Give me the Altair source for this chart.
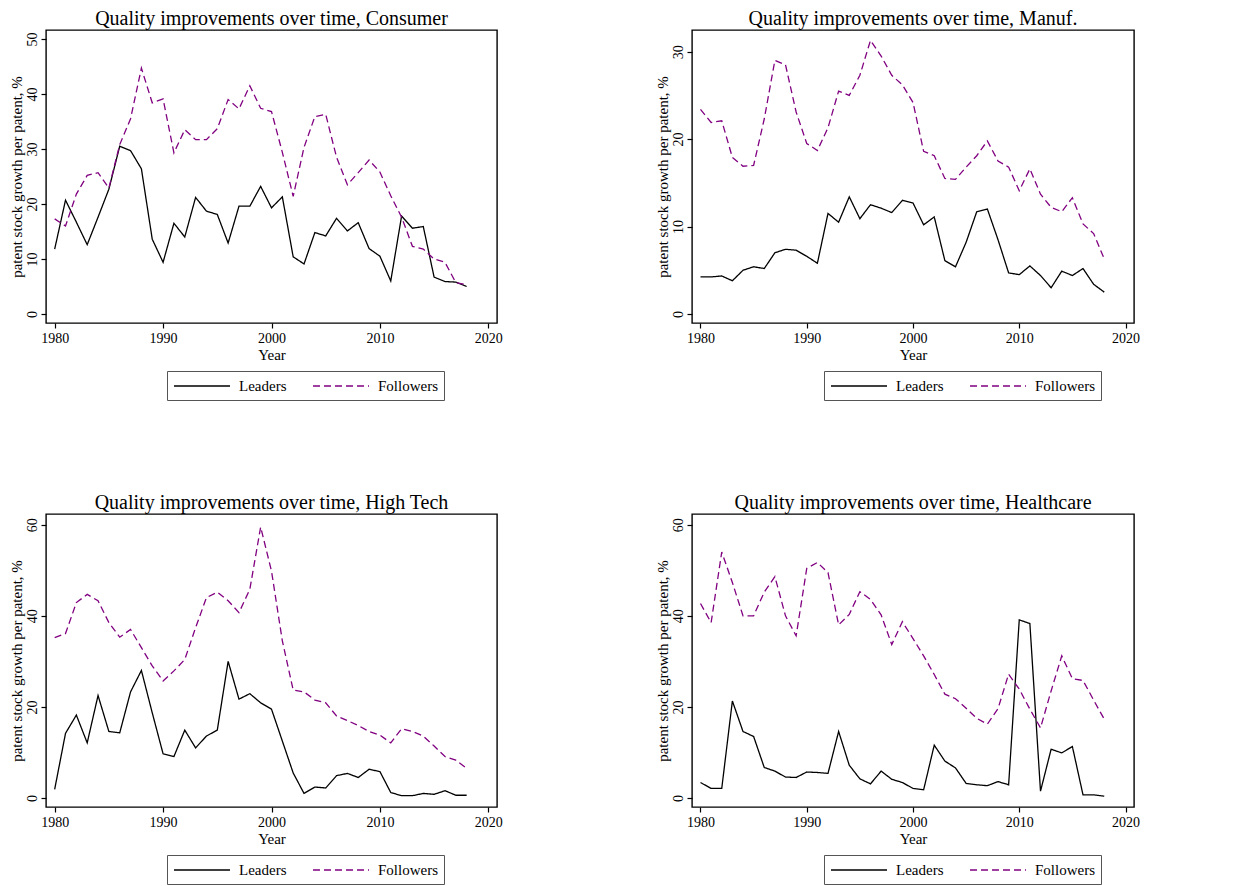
import altair as alt
import pandas as pd

years = list(range(1980, 2019))
groups = ["Leaders", "Followers"]

consumer_leaders = [11.8, 20.7, 16.7, 12.6, 17.6, 22.7, 30.5, 29.7, 26.4, 13.6,
                    9.4, 16.5, 14.0, 21.2, 18.7, 18.1, 12.9, 19.6, 19.6, 23.2,
                    19.3, 21.3, 10.4, 9.1, 14.8, 14.2, 17.4, 15.1, 16.6, 11.9,
                    10.5, 6.0, 17.8, 15.6, 15.9, 6.7, 5.9, 5.8, 5.0]
consumer_followers = [17.3, 16.0, 21.8, 25.2, 25.7, 22.9, 30.8, 35.5, 44.7, 38.4,
                      39.1, 29.3, 33.5, 31.7, 31.7, 33.7, 39.0, 37.3, 41.5, 37.4,
                      36.8, 29.4, 21.4, 30.3, 35.9, 36.3, 28.5, 23.5, 25.7, 28.0,
                      25.8, 21.5, 17.6, 12.3, 11.8, 10.0, 9.4, 5.7, 5.3]

manuf_leaders = [4.24, 4.24, 4.35, 3.8, 5.0, 5.4, 5.2, 7.0, 7.4, 7.3,
                 6.6, 5.8, 11.5, 10.5, 13.4, 10.9, 12.5, 12.1, 11.6, 13.0,
                 12.7, 10.2, 11.1, 6.1, 5.4, 8.2, 11.7, 12.0, 8.5, 4.7,
                 4.5, 5.5, 4.4, 3.0, 4.9, 4.4, 5.2, 3.4, 2.5]
manuf_followers = [23.4, 21.9, 22.1, 17.9, 16.9, 17.0, 22.3, 29.0, 28.5, 23.1,
                   19.5, 18.7, 21.3, 25.5, 25.0, 27.3, 31.3, 29.5, 27.3, 26.2,
                   24.2, 18.6, 18.1, 15.5, 15.4, 16.8, 18.1, 19.8, 17.5, 16.8,
                   14.1, 16.6, 13.7, 12.2, 11.7, 13.3, 10.3, 9.2, 6.3]

hightech_leaders = [1.9, 14.2, 18.2, 12.1, 22.5, 14.6, 14.3, 23.3, 28.0, 18.7,
                    9.7, 9.1, 14.9, 11.0, 13.6, 14.9, 30.0, 21.7, 22.9, 20.9,
                    19.5, 12.5, 5.5, 1.0, 2.4, 2.2, 4.9, 5.4, 4.5, 6.3,
                    5.8, 1.2, 0.5, 0.5, 1.0, 0.8, 1.6, 0.6, 0.6]
hightech_followers = [35.2, 36.1, 42.9, 44.7, 43.3, 38.5, 35.3, 37.0, 33.0, 29.0,
                      25.7, 27.9, 30.4, 37.4, 44.0, 45.2, 43.3, 40.7, 45.8, 59.5,
                      49.8, 34.5, 23.7, 23.3, 21.5, 20.9, 18.0, 17.0, 15.9, 14.6,
                      13.8, 12.1, 15.2, 14.6, 13.6, 11.4, 9.1, 8.3, 6.5]

health_leaders = [3.4, 2.1, 2.1, 21.3, 14.6, 13.5, 6.7, 5.9, 4.6, 4.5,
                  5.7, 5.6, 5.4, 14.6, 7.2, 4.2, 3.1, 5.9, 4.1, 3.4,
                  2.1, 1.8, 11.6, 8.1, 6.6, 3.2, 2.9, 2.7, 3.6, 2.9,
                  39.1, 38.3, 1.5, 10.7, 9.9, 11.3, 0.7, 0.7, 0.4]
health_followers = [42.7, 38.5, 54.0, 47.3, 40.0, 40.0, 45.2, 48.6, 40.0, 35.6,
                    50.4, 51.7, 49.5, 38.0, 40.3, 45.3, 43.6, 40.2, 33.7, 38.7,
                    35.0, 31.2, 27.1, 22.8, 21.8, 19.7, 17.5, 16.2, 19.6, 27.2,
                    23.9, 19.5, 15.4, 23.5, 31.2, 26.2, 25.8, 21.5, 17.3]

x_ticks = [1980, 1990, 2000, 2010, 2020]
FONT = "Liberation Serif"
PURPLE = "#800080"


def panel(name, leaders, followers, ydomain, yticks, width, legend_x):
    df = pd.DataFrame({
        "Year": years + years,
        "value": leaders + followers,
        "group": ["Leaders"] * len(years) + ["Followers"] * len(years),
    })
    leg = alt.Legend(
        title=None, orient="none", legendX=legend_x, legendY=341,
        direction="horizontal", symbolType="M-1,0H6", symbolSize=256,
        symbolStrokeWidth=1.3, labelFont=FONT, labelFontSize=15,
        labelColor="black", labelOffset=48, columnPadding=23,
        strokeColor="#555555", fillColor="white", padding=6,
    )
    return alt.Chart(df).mark_line(strokeWidth=1.3).encode(
        x=alt.X("Year:Q",
                scale=alt.Scale(domain=[1979.2, 2020.8], nice=False, zero=False),
                axis=alt.Axis(values=x_ticks, format="d", title="Year")),
        y=alt.Y("value:Q",
                scale=alt.Scale(domain=ydomain, nice=False, zero=False),
                axis=alt.Axis(values=yticks, title="patent stock growth per patent, %",
                              labelAngle=270, labelAlign="center",
                              labelBaseline="bottom")),
        color=alt.Color("group:N",
                        scale=alt.Scale(domain=groups, range=["black", PURPLE]),
                        legend=leg),
        strokeDash=alt.StrokeDash("group:N",
                                  scale=alt.Scale(domain=groups, range=[[1, 0], [7, 4]]),
                                  legend=leg),
        order=alt.Order("Year:Q"),
    ).properties(
        width=width, height=293,
        title=alt.Title("Quality improvements over time, " + name, font=FONT,
                        fontSize=20, fontWeight="normal", color="black",
                        anchor="middle", offset=1),
    )


p1 = panel("Consumer", consumer_leaders, consumer_followers, [-1.64, 51.64], [0, 10, 20, 30, 40, 50], 451, 121)
p2 = panel("Manuf.", manuf_leaders, manuf_followers, [-1.03, 32.48], [0, 10, 20, 30], 442, 132)
p3 = panel("High Tech", hightech_leaders, hightech_followers, [-1.98, 62.35], [0, 20, 40, 60], 451, 121)
p4 = panel("Healthcare", health_leaders, health_followers, [-1.98, 62.35], [0, 20, 40, 60], 442, 132)

res = dict(y="independent", color="independent", strokeDash="independent")
row1 = alt.hconcat(p1, p2, spacing=150).resolve_scale(**res).resolve_legend(color="independent", strokeDash="independent")
row2 = alt.hconcat(p3, p4, spacing=150).resolve_scale(**res).resolve_legend(color="independent", strokeDash="independent")

chart = alt.vconcat(row1, row2, spacing=90).resolve_scale(**res).resolve_legend(
    color="independent", strokeDash="independent"
).properties(
    padding=0, background="white"
).configure_view(
    stroke="black", strokeWidth=1.4
).configure_axis(
    grid=False, domain=False, tickColor="black", tickSize=5, tickWidth=1.2,
    labelFont=FONT, labelFontSize=14, labelColor="black", labelPadding=2,
    titleFont=FONT, titleFontSize=15, titleFontWeight="normal", titleColor="black",
).configure_axisX(
    labelFlush=False, titlePadding=2, labelPadding=3
).configure_axisY(
    titlePadding=1
)

chart.save("out.html", embed_options={"renderer": "svg", "actions": False})
